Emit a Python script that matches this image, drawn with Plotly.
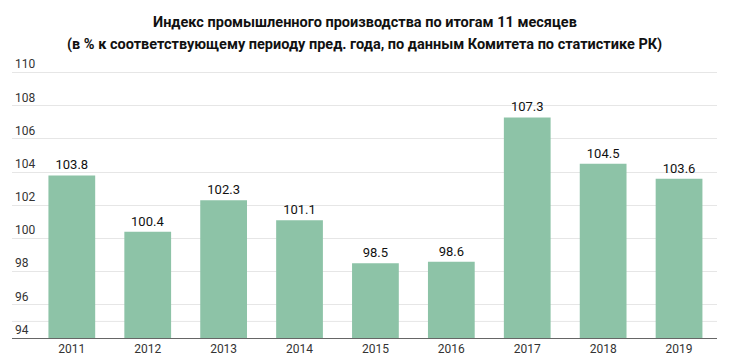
import plotly.graph_objects as go

years = ["2011", "2012", "2013", "2014", "2015", "2016", "2017", "2018", "2019"]
values = [103.8, 100.4, 102.3, 101.1, 98.5, 98.6, 107.3, 104.5, 103.6]
y_ticks = [94, 96, 98, 100, 102, 104, 106, 108, 110]
title_lines = [
    "Индекс промышленного производства по итогам 11 месяцев",
    "(в % к соответствующему периоду пред. года, по данным Комитета по статистике РК)",
]

TOP = 56

fig = go.Figure(
    go.Bar(
        x=years,
        y=values,
        marker=dict(color="#8dc3a7", line=dict(width=0)),
        width=0.616,
        text=[f"{v:.1f}" for v in values],
        textposition="outside",
        textfont=dict(family="Roboto", size=13, color="#111111"),
        cliponaxis=False,
        hoverinfo="skip",
    )
)

fig.update_layout(
    width=730,
    height=362,
    margin=dict(l=12, r=13, t=TOP, b=24, autoexpand=False),
    paper_bgcolor="white",
    plot_bgcolor="white",
    showlegend=False,
    font=dict(family="Roboto", size=12, color="#333333"),
    xaxis=dict(
        type="category",
        range=[-0.788, 8.5],
        showline=True,
        mirror=False,
        linecolor="#666666",
        linewidth=1,
        showgrid=False,
        zeroline=False,
        ticks="",
        automargin=False,
        tickfont=dict(family="Roboto", size=12, color="#333333"),
        fixedrange=True,
    ),
    yaxis=dict(
        range=[94, 111],
        tickvals=y_ticks,
        ticktext=[str(t) for t in y_ticks],
        showgrid=True,
        gridcolor="#e6e6e6",
        gridwidth=1,
        zeroline=False,
        showline=False,
        mirror=False,
        ticks="",
        automargin=False,
        ticklabelposition="inside top",
        tickfont=dict(family="Roboto", size=12, color="#333333"),
        fixedrange=True,
    ),
    bargap=0.384,
)

title_centers = [22, 44]
for line, yc in zip(title_lines, title_centers):
    fig.add_annotation(
        text="<b>" + line + "</b>",
        xref="paper", yref="paper",
        x=0.5, xanchor="center",
        y=1, yanchor="middle",
        yshift=TOP - yc,
        showarrow=False,
        font=dict(family="Roboto", size=14.5, color="#111111"),
    )

fig.add_shape(
    type="line", xref="paper", yref="y", x0=0, x1=1, y0=95, y1=95,
    line=dict(color="#e6e6e6", width=1), layer="below",
)

fig.write_html(
    "out.html",
    config={"displayModeBar": False},
    post_script="document.body.style.margin='0';document.body.style.padding='0';",
)
